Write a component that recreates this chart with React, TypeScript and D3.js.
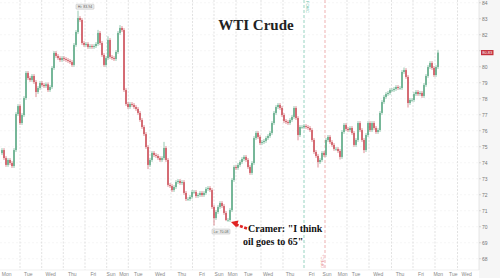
import React from "react";
import * as d3 from "d3";

const closes = [
  74.79, 74.29, 73.86, 74.17, 73.98, 73.79, 74.79, 77.04, 77.54, 76.48,
  76.98, 78.04, 79.61, 79.29, 79.17, 79.42, 79.04, 78.42, 78.67, 78.98,
  78.86, 78.79, 78.9, 78.54, 78.73, 79.92, 80.86, 80.67, 80.54, 80.42,
  80.54, 80.48, 80.42, 80.36, 80.29, 80.11, 81.36, 82.17, 83.04, 82.92,
  81.48, 81.36, 81.42, 81.23, 81.29, 81.23, 81.29, 81.42, 82.11, 81.48,
  80.73, 80.11, 80.54, 81.67, 80.61, 80.54, 80.48, 80.92, 82.11, 82.42,
  82.29, 78.54, 77.67, 77.48, 77.67, 77.61, 77.48, 77.36, 77.11, 76.67,
  76.23, 75.79, 74.98, 73.86, 74.17, 74.61, 74.48, 74.42, 74.29, 74.17,
  74.29, 74.92, 74.17, 72.61, 72.54, 72.29, 72.48, 72.79, 72.86, 72.73,
  72.79, 72.11, 71.73, 71.73, 71.86, 72.17, 72.17, 71.92, 71.98, 72.11,
  71.98, 72.11, 72.36, 72.42, 72.29, 71.23, 70.54, 70.92, 71.23, 71.48,
  71.29, 70.86, 70.42, 70.42, 71.04, 72.92, 73.73, 73.67, 73.86, 74.04,
  74.23, 74.36, 74.17, 73.73, 73.36, 73.98, 75.54, 75.86, 75.61, 75.23,
  75.29, 75.36, 75.54, 75.67, 75.86, 76.48, 77.11, 77.48, 77.61, 77.42,
  76.98, 76.61, 76.54, 76.48, 76.67, 76.86, 77.42, 76.79, 75.73, 76.23,
  76.23, 76.29, 76.23, 76.17, 76.04, 75.42, 74.67, 74.42, 74.04, 74.17,
  74.61, 74.48, 75.42, 75.61, 75.29, 75.11, 74.86, 74.86, 74.73, 74.36,
  75.92, 76.36, 76.11, 76.04, 76.17, 75.86, 75.11, 75.42, 76.48, 76.04,
  75.42, 74.79, 75.73, 76.48, 76.04, 76.48, 76.17, 75.92, 76.04, 77.11,
  77.79, 78.11, 78.29, 78.36, 78.54, 78.54, 78.61, 78.73, 78.67, 78.67,
  79.67, 79.79, 79.36, 77.73, 77.92, 77.92, 78.29, 78.42, 78.29, 78.36,
  78.17, 78.86, 79.42, 79.98, 80.23, 79.92, 79.48, 79.98, 80.88,
];
const firstOpen = 74.6;
// [candle number, high]
const spikeHighs: [number, number][] = [
  [39, 83.5], [49, 82.3], [54, 81.9], [60, 82.6], [82, 75.3],
  [202, 79.95], [215, 80.35], [219, 81.05],
];
// [candle number, low]
const spikeLows: [number, number][] = [
  [18, 78.1], [74, 73.6], [107, 70.08], [113, 70.35], [149, 75.4],
  [159, 73.7], [170, 74.2], [182, 74.6], [204, 77.45],
];
const hiCandle = 39;
const loCandle = 107;
const hiText = "Hi: 83.94";
const loText = "Lo: 70.08";
const lastText = "80.83";

const yTicks = [84, 83, 82, 81, 80, 79, 78, 77, 76, 75, 74, 73, 72, 71, 70, 69, 68];
const dayLabels = [
  "Mon", "Tue", "Wed", "Thu", "Fri", "Sun", "Mon", "Tue", "Wed", "Thu", "Fri", "Sun", "Mon",
  "Tue", "Wed", "Thu", "Fri", "Sun", "Mon", "Tue", "Wed", "Thu", "Fri", "Mon", "Tue", "Wed",
];
const dayLabelAt = [
  3.35, 14.15, 25.35, 36.15, 46.65, 55.5, 62, 69.15, 80, 90.85, 101, 109.5, 116.3,
  124.15, 134, 145, 155.85, 163.5, 171.35, 178, 189.15, 200, 210.5, 219.15, 226.65, 233.35,
];
const dayGridAt = [
  10, 20.85, 31.65, 42.5, 53.35, 64.15, 75, 85.5, 96.25, 107, 118, 130.5, 141.5,
  173.5, 184.5, 195.75, 206.5, 217.5, 228.75,
];
const eventAt = [152, 162.5];
const eventNames = ["FOMC", "OPEC+"];

const W = 500;
const H = 278;
const plotRight = 479;
const plotBottom = 270;

export default function App() {
  const x = d3.scaleLinear().domain([0, 239.5]).range([0, plotRight]);
  const y = d3.scaleLinear().domain([84, 68]).range([2.7, 258.7]);

  const hiMap = new Map(spikeHighs);
  const loMap = new Map(spikeLows);
  const candles = closes.map((c, i) => {
    const k = i + 1;
    const o = i === 0 ? firstOpen : closes[i - 1];
    const hi = hiMap.has(k) ? (hiMap.get(k) as number) : Math.max(o, c) + 0.12;
    const lo = loMap.has(k) ? (loMap.get(k) as number) : Math.min(o, c) - 0.12;
    return { k, o, c, hi, lo };
  });

  const up = "#3f9a70";
  const down = "#c4303c";
  const hiX = x(hiCandle);
  const hiY = y(hiMap.get(hiCandle) as number);
  const loX = x(loCandle);
  const loY = y(loMap.get(loCandle) as number);
  const last = closes[closes.length - 1];
  const lastY = y(last);

  return (
    <svg
      width={W}
      height={H}
      style={{ position: "absolute", left: 0, top: 0, background: "#fff" }}
      fontFamily="'Liberation Sans', Arial, sans-serif"
    >
      <rect x={plotRight} y={0} width={W - plotRight} height={H} fill="#f6f6f6" />
      <line x1={plotRight} x2={plotRight} y1={0} y2={plotBottom} stroke="#d8d8d8" strokeWidth={0.6} />

      {yTicks.map((t) => (
        <g key={"y" + t}>
          <line x1={0} x2={plotRight} y1={y(t)} y2={y(t)} stroke="#efefef" strokeWidth={0.5} strokeDasharray="2,2" />
          <line x1={plotRight} x2={plotRight + 2} y1={y(t)} y2={y(t)} stroke="#bbb" strokeWidth={0.5} />
          {Math.abs(y(t) - lastY) > 5 && (
            <text x={plotRight + 3} y={y(t) + 1.8} fontSize={5} fill="#777">
              {t}
            </text>
          )}
        </g>
      ))}

      {dayGridAt.map((d, i) => (
        <line
          key={"g" + i}
          x1={x(d)}
          x2={x(d)}
          y1={0}
          y2={plotBottom}
          stroke="#cfcfcf"
          strokeWidth={0.6}
          strokeDasharray="2,1.5"
        />
      ))}
      <line x1={0} x2={plotRight} y1={plotBottom} y2={plotBottom} stroke="#e2e2e2" strokeWidth={0.5} />
      {dayLabels.map((l, i) => (
        <text key={"d" + i} x={x(dayLabelAt[i])} y={275.5} fontSize={5} fill="#888" textAnchor="middle">
          {l}
        </text>
      ))}

      <line x1={x(eventAt[0])} x2={x(eventAt[0])} y1={0} y2={plotBottom} stroke="#6cc0a8" strokeWidth={0.7} strokeDasharray="3,2" />
      <text transform={`translate(${x(eventAt[0]) + 1.6},1) rotate(90)`} fontSize={4} fill="#6cc0a8">
        {eventNames[0]}
      </text>
      <line x1={x(eventAt[1])} x2={x(eventAt[1])} y1={0} y2={plotBottom} stroke="#e89090" strokeWidth={0.7} strokeDasharray="3,2" />
      <text transform={`translate(${x(eventAt[1]) - 0.6},268) rotate(-90)`} fontSize={4} fill="#e89090">
        {eventNames[1]}
      </text>

      <text x={256} y={30} fontSize={15} fontWeight="bold" fontFamily="'Liberation Serif', 'Times New Roman', serif" fill="#222" textAnchor="middle">
        WTI Crude
      </text>

      {candles.map((d) => {
        const col = d.c >= d.o ? up : down;
        const top = y(Math.max(d.o, d.c));
        const bot = y(Math.min(d.o, d.c));
        return (
          <g key={"c" + d.k}>
            <line x1={x(d.k)} x2={x(d.k)} y1={y(d.hi)} y2={y(d.lo)} stroke={col} strokeWidth={0.55} />
            <rect x={x(d.k) - 0.6} y={top} width={1.2} height={Math.max(0.6, bot - top)} fill={col} />
          </g>
        );
      })}

      <g>
        <rect x={hiX - 2} y={hiY - 6.5} width={18} height={5} fill="#eeeeee" stroke="#aaa" strokeWidth={0.4} rx={0.8} />
        <text x={hiX + 7} y={hiY - 2.8} fontSize={3.6} fill="#555" textAnchor="middle">
          {hiText}
        </text>
        <rect x={loX - 2} y={loY + 3.6} width={18} height={5} fill="#eeeeee" stroke="#aaa" strokeWidth={0.4} rx={0.8} />
        <text x={loX + 7} y={loY + 7.3} fontSize={3.6} fill="#555" textAnchor="middle">
          {loText}
        </text>
      </g>

      <rect x={plotRight + 2} y={lastY - 2.6} width={12.5} height={5.2} fill="#c4303c" />
      <text x={plotRight + 8.2} y={lastY + 1.5} fontSize={4} fill="#fff" textAnchor="middle">
        {lastText}
      </text>

      <g>
        <line x1={247} y1={228.5} x2={236} y2={224.5} stroke="#e02424" strokeWidth={2.6} strokeDasharray="3,1.5" />
        <path d="M231,222 L238.5,220.6 L236.4,227.6 Z" fill="#e02424" />
      </g>
      <g fontFamily="'Liberation Serif', 'Times New Roman', serif" fontWeight="bold" fontSize={10} fill="#111">
        <text x={248} y={232}>Cramer: "I think</text>
        <text x={243} y={245}>oil goes to 65"</text>
      </g>
    </svg>
  );
}
